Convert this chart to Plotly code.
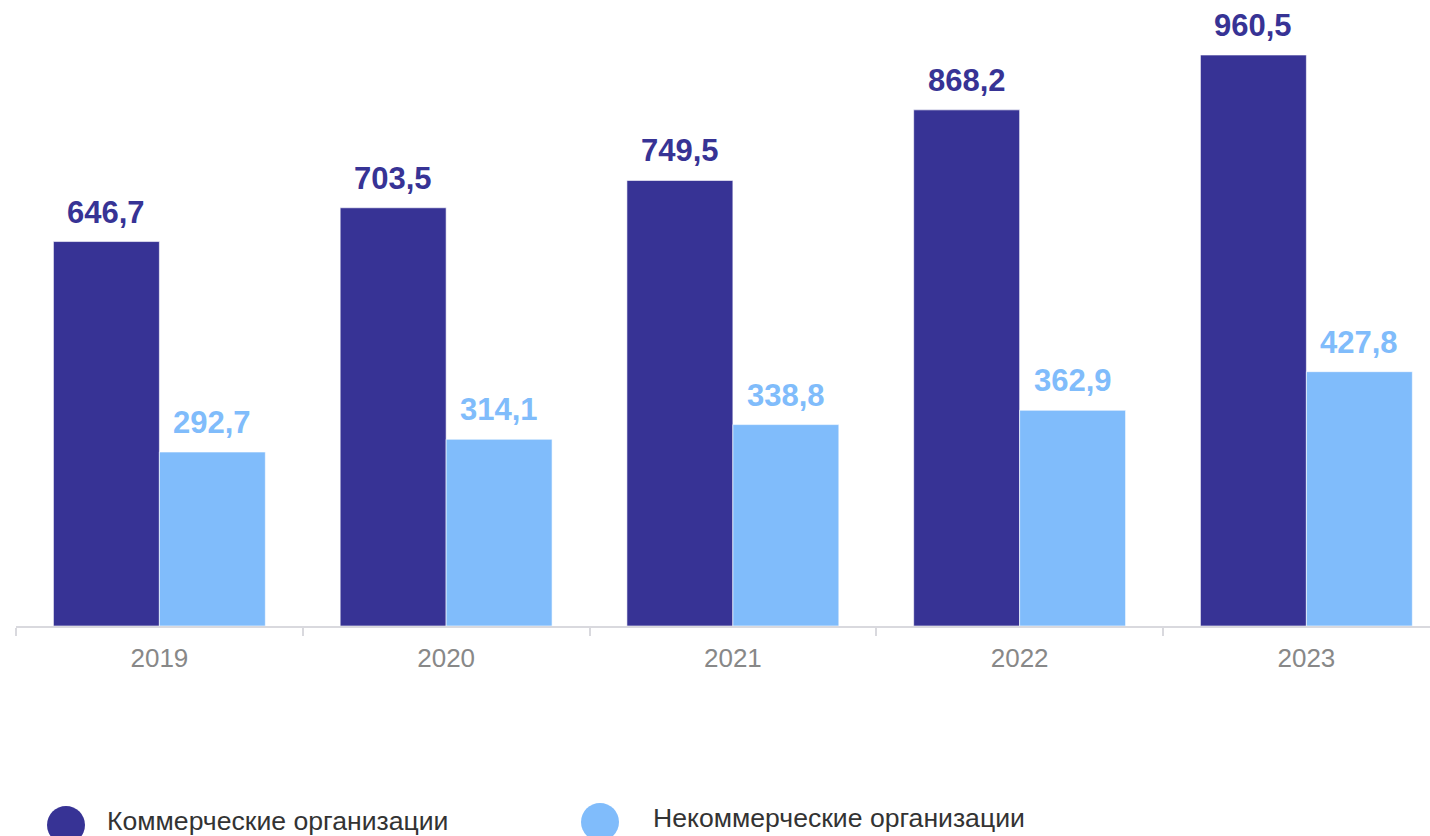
import plotly.graph_objects as go

years = ["2019", "2020", "2021", "2022", "2023"]
commercial = [646.7, 703.5, 749.5, 868.2, 960.5]
noncommercial = [292.7, 314.1, 338.8, 362.9, 427.8]
series_names = ["Коммерческие организации", "Некоммерческие организации"]
labels_commercial = ["646,7", "703,5", "749,5", "868,2", "960,5"]
labels_noncommercial = ["292,7", "314,1", "338,8", "362,9", "427,8"]

DARK = "#373395"
LIGHT = "#80BCFB"
FONT = "Arial, Liberation Sans, sans-serif"

W, H = 1430, 836
ML, MR, MT, MB = 16, 0, 0, 210
plot_w = W - ML - MR
plot_h = H - MT - MB
cat_w = 286.75

fig = go.Figure()
fig.add_trace(go.Bar(x=years, y=commercial, name=series_names[0], marker=dict(color=DARK, line=dict(color="rgba(255,255,255,0.6)", width=1)), showlegend=False, hoverinfo="y"))
fig.add_trace(go.Bar(x=years, y=noncommercial, name=series_names[1], marker=dict(color=LIGHT, line=dict(color="rgba(255,255,255,0.6)", width=1)), showlegend=False, hoverinfo="y"))

annotations = []
for i, (v, t) in enumerate(zip(commercial, labels_commercial)):
    annotations.append(dict(x=i, y=v, text="<b>" + t + "</b>", showarrow=False, xref="x", yref="y",
                            xanchor="center", yanchor="bottom", xshift=-53, yshift=10,
                            font=dict(family=FONT, size=31, color=DARK)))
for i, (v, t) in enumerate(zip(noncommercial, labels_noncommercial)):
    annotations.append(dict(x=i, y=v, text="<b>" + t + "</b>", showarrow=False, xref="x", yref="y",
                            xanchor="center", yanchor="bottom", xshift=53, yshift=10,
                            font=dict(family=FONT, size=31, color=LIGHT)))

def px_x(px):
    return (px - ML) / plot_w

def px_y(py):
    return (MT + plot_h - py) / plot_h

shapes = []
legend_items = [(66, 825, 105, 821, DARK, series_names[0]), (600, 822, 651, 818, LIGHT, series_names[1])]
for cx, cy, tx, ty, col, name in legend_items:
    shapes.append(dict(type="circle", xref="paper", yref="paper", xsizemode="pixel", ysizemode="pixel",
                       xanchor=px_x(cx), yanchor=px_y(cy), x0=-19, x1=19, y0=-19, y1=19,
                       fillcolor=col, line=dict(width=0)))
    annotations.append(dict(x=px_x(tx), y=px_y(ty), xref="paper", yref="paper", text=name,
                            showarrow=False, xanchor="left", yanchor="middle",
                            font=dict(family=FONT, size=26.6, color="#333333")))

fig.update_layout(
    width=W, height=H,
    margin=dict(l=ML, r=MR, t=MT, b=MB),
    paper_bgcolor="white", plot_bgcolor="white",
    barmode="group", bargap=0.261, bargroupgap=0,
    annotations=annotations, shapes=shapes,
    xaxis=dict(type="category", range=[-0.5, -0.5 + plot_w / cat_w], showgrid=False,
               showline=True, linecolor="#d9d9de", linewidth=2,
               ticks="outside", tickson="boundaries", ticklen=8, tickcolor="#d9d9de", tickwidth=1.5,
               tickfont=dict(family=FONT, size=26, color="#888888"), ticklabelstandoff=8),
    yaxis=dict(range=[0, plot_h / 0.59448], visible=False, showgrid=False),
    showlegend=False,
)

fig.write_html("out.html")
